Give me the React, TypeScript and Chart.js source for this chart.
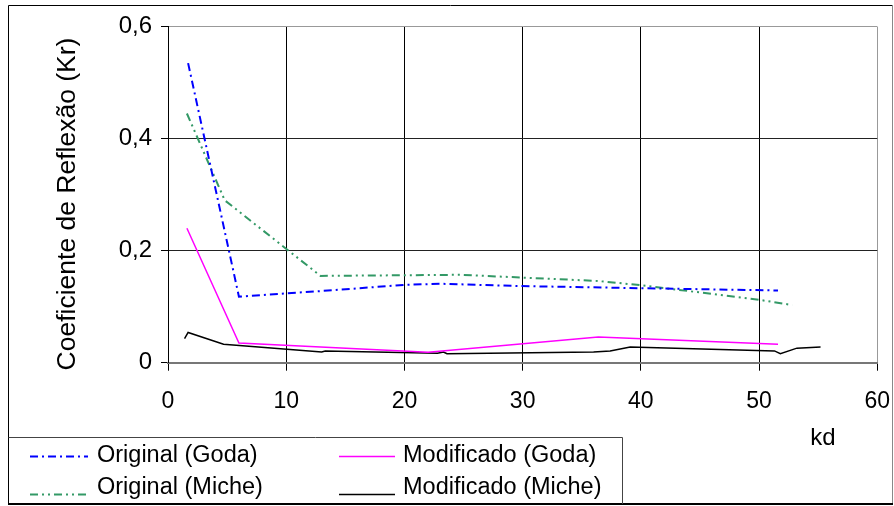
import { useEffect, useRef } from "react";
import { Chart, registerables } from "chart.js";

Chart.register(...registerables);

// ---- data ----
const origGodaX = [1.7, 6.0, 13.0, 20.0, 23.0, 29.5, 40.0, 51.6];
const origGodaY = [0.535, 0.118, 0.128, 0.139, 0.141, 0.137, 0.133, 0.129];

const origMicheX = [1.6, 4.8, 12.9, 24.7, 30.0, 36.3, 40.2, 50.1, 52.8];
const origMicheY = [0.445, 0.29, 0.155, 0.157, 0.152, 0.146, 0.138, 0.112, 0.103];

const modGodaX = [1.6, 6.0, 22.0, 36.4, 51.6];
const modGodaY = [0.24, 0.035, 0.0185, 0.046, 0.033];

const modMicheX = [1.4, 1.7, 4.7, 13.0, 13.3, 22.8, 23.3, 23.6, 36.0, 37.4, 39.1, 51.3, 51.8, 53.2, 55.2];
const modMicheY = [0.043, 0.054, 0.033, 0.019, 0.021, 0.017, 0.019, 0.016, 0.019, 0.021, 0.028, 0.021, 0.016, 0.026, 0.028];

const xTickValues = [0, 10, 20, 30, 40, 50, 60];
const yTickValues = [0, 0.2, 0.4, 0.6];

const seriesLabels = ["Original (Goda)", "Original (Miche)", "Modificado (Goda)", "Modificado (Miche)"];
const xTitle = "kd";
const yTitle = "Coeficiente de Reflexão (Kr)";

const FONT = "'Liberation Sans', Arial, sans-serif";

const toPoints = (xs: number[], ys: number[]) => xs.map((x, i) => ({ x, y: ys[i] }));

const styles = [
  { color: "#0000FF", width: 2, dash: [8, 4, 2, 4] },
  { color: "#339966", width: 2, dash: [8, 4, 2, 4, 2, 4] },
  { color: "#FF00FF", width: 1.5, dash: [] as number[] },
  { color: "#000000", width: 1.5, dash: [] as number[] },
];

const decorPlugin = {
  id: "decor",
  afterDraw(chart: any) {
    const ctx: CanvasRenderingContext2D = chart.ctx;
    ctx.save();
    // outer frame
    ctx.lineWidth = 1;
    ctx.strokeStyle = "#000";
    ctx.beginPath();
    ctx.moveTo(8.5, 504);
    ctx.lineTo(8.5, 5.5);
    ctx.lineTo(892.5, 5.5);
    ctx.stroke();
    ctx.strokeStyle = "#888";
    ctx.beginPath();
    ctx.moveTo(892.5, 5.5);
    ctx.lineTo(892.5, 504);
    ctx.stroke();
    ctx.strokeStyle = "#000";
    ctx.lineWidth = 2;
    ctx.beginPath();
    ctx.moveTo(8, 504);
    ctx.lineTo(893, 504);
    ctx.stroke();

    // legend box
    ctx.lineWidth = 1;
    ctx.strokeStyle = "#444";
    ctx.beginPath();
    ctx.moveTo(8.5, 437.5);
    ctx.lineTo(622.5, 437.5);
    ctx.lineTo(622.5, 504);
    ctx.stroke();

    // legend entries
    const cols = [
      { sx0: 30, sx1: 88, tx: 97 },
      { sx0: 339, sx1: 395, tx: 403 },
    ];
    const rows = [
      { ty: 456, sy: 456.5 },
      { ty: 488, sy: 494.5 },
    ];
    const order = [
      [0, 0, 0],
      [1, 0, 1],
      [2, 1, 0],
      [3, 1, 1],
    ];
    ctx.font = `23.5px ${FONT}`;
    ctx.textBaseline = "middle";
    ctx.textAlign = "left";
    for (const [si, ci, ri] of order) {
      const st = styles[si];
      const c = cols[ci];
      const r = rows[ri];
      ctx.strokeStyle = st.color;
      ctx.lineWidth = st.width;
      ctx.setLineDash(st.dash);
      ctx.beginPath();
      ctx.moveTo(c.sx0, r.sy);
      ctx.lineTo(c.sx1, r.sy);
      ctx.stroke();
      ctx.setLineDash([]);
      ctx.fillStyle = "#000";
      ctx.fillText(seriesLabels[si], c.tx, r.ty);
    }

    // x title
    ctx.font = `24px ${FONT}`;
    ctx.textAlign = "center";
    ctx.fillText(xTitle, 823, 438);

    // y title
    ctx.translate(68, 204);
    ctx.rotate(-Math.PI / 2);
    ctx.font = `26.5px ${FONT}`;
    ctx.textAlign = "center";
    ctx.textBaseline = "middle";
    ctx.fillText(yTitle, 0, 0);
    ctx.restore();
  },
};

export default function App() {
  const ref = useRef<HTMLCanvasElement>(null);

  useEffect(() => {
    document.body.style.margin = "0";
    const canvas = ref.current!;
    const datasets = [
      toPoints(origGodaX, origGodaY),
      toPoints(origMicheX, origMicheY),
      toPoints(modGodaX, modGodaY),
      toPoints(modMicheX, modMicheY),
    ].map((data, i) => ({
      label: seriesLabels[i],
      data,
      borderColor: styles[i].color,
      backgroundColor: styles[i].color,
      borderWidth: styles[i].width,
      borderDash: styles[i].dash,
      pointRadius: 0,
      fill: false,
      tension: 0,
    }));

    const chart = new Chart(canvas, {
      type: "line",
      data: { datasets },
      options: {
        animation: false,
        responsive: false,
        devicePixelRatio: 1,
        layout: { padding: { left: 0, right: 16.7, top: 26.7, bottom: 0 } },
        plugins: {
          legend: { display: false },
          tooltip: { enabled: false },
        },
        scales: {
          x: {
            type: "linear",
            min: 0,
            max: 60,
            afterBuildTicks: (s: any) => {
              s.ticks = xTickValues.map((v) => ({ value: v }));
            },
            afterFit: (s: any) => {
              s.height = 506 - 362.7;
              s.paddingLeft = 0;
              s.paddingRight = 0;
            },
            ticks: {
              color: "#000",
              font: { family: FONT, size: 23 },
              padding: 17,
              maxRotation: 0,
              autoSkip: false,
              callback: (v: any) => String(v),
            },
            grid: {
              color: (c: any) => (c.tick && c.tick.value === 60 ? "#999" : "#000"),
              tickColor: "#000",
              tickLength: 8,
              lineWidth: 1,
            },
            border: { color: "#777", width: 2 },
          },
          y: {
            type: "linear",
            min: 0,
            max: 0.6,
            afterBuildTicks: (s: any) => {
              s.ticks = yTickValues.map((v) => ({ value: v }));
            },
            afterFit: (s: any) => {
              s.width = 168;
              s.paddingTop = 0;
              s.paddingBottom = 0;
            },
            ticks: {
              color: "#000",
              font: { family: FONT, size: 24 },
              padding: 9,
              callback: (v: any) => (v === 0 ? "0" : Number(v).toFixed(1).replace(".", ",")),
            },
            grid: {
              color: (c: any) => (c.tick && Math.abs(c.tick.value - 0.6) < 1e-6 ? "#999" : "#222"),
              tickColor: "#000",
              tickLength: 7,
              lineWidth: 1,
            },
            border: { color: "#000", width: 1 },
          },
        },
      },
      plugins: [decorPlugin],
    });
    return () => chart.destroy();
  }, []);

  return (
    <div style={{ width: 894, height: 506, background: "#fff" }}>
      <canvas ref={ref} width={894} height={506} style={{ display: "block", width: 894, height: 506 }} />
    </div>
  );
}
